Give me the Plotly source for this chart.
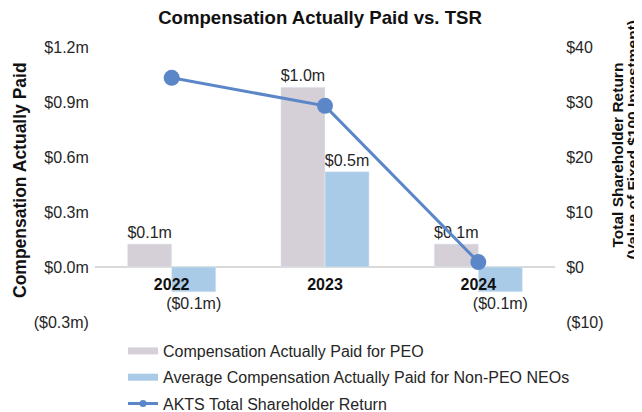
import plotly.graph_objects as go

# ---- data ----
years = ["2022", "2023", "2024"]
peo_cap = [0.125, 0.98, 0.125]          # $m, Compensation Actually Paid for PEO
neo_cap = [-0.135, 0.52, -0.135]        # $m, Average CAP for Non-PEO NEOs
tsr = [34.4, 29.3, 0.9]                 # AKTS TSR, value of fixed $100
left_ticks = [-0.3, 0.0, 0.3, 0.6, 0.9, 1.2]
left_labels = ["($0.3m)", "$0.0m", "$0.3m", "$0.6m", "$0.9m", "$1.2m"]
right_ticks = [-10, 0, 10, 20, 30, 40]
right_labels = ["($10)", "$0", "$10", "$20", "$30", "$40"]
names = ["Compensation Actually Paid for PEO",
         "Average Compensation Actually Paid for Non-PEO NEOs",
         "AKTS Total Shareholder Return"]


def money(v):
    s = f"${abs(v):.1f}m"
    return f"({s})" if v < 0 else s


FONT = "Liberation Sans, Arial, sans-serif"
TXT = "#262626"
C_PEO = "#d5d0d8"
C_NEO = "#a9cbe8"
C_TSR = "#5b86c8"
# page body has an 8px margin, so the figure is 8px smaller than the window
W, H = 634, 404
L, R, T, B = 87, 87, 39, 90
PW, PH = W - L - R, H - T - B

fig = go.Figure()
fig.add_trace(go.Bar(x=years, y=peo_cap, name=names[0], marker_color=C_PEO,
                     text=[money(v) for v in peo_cap], textposition="outside",
                     constraintext="none",
                     textfont=dict(size=16, color=TXT, family=FONT),
                     cliponaxis=False, showlegend=False))
fig.add_trace(go.Bar(x=years, y=neo_cap, name=names[1], marker_color=C_NEO,
                     text=[money(v) for v in neo_cap], textposition="outside",
                     constraintext="none",
                     textfont=dict(size=16, color=TXT, family=FONT),
                     cliponaxis=False, showlegend=False))
fig.add_trace(go.Scatter(x=years, y=tsr, name=names[2], yaxis="y2",
                         mode="lines+markers",
                         line=dict(color=C_TSR, width=3),
                         marker=dict(color=C_TSR, size=16),
                         cliponaxis=False, showlegend=False))

# legend entries (styled swatches)
for i, (nm, col) in enumerate(zip(names[:2], [C_PEO, C_NEO])):
    fig.add_trace(go.Scatter(x=[None], y=[None], name=nm, mode="lines",
                             line=dict(color=col, width=7), legendgroup=f"g{i}"))
fig.add_trace(go.Scatter(x=[None], y=[None], name=names[2], mode="lines+markers",
                         line=dict(color=C_TSR, width=3),
                         marker=dict(color=C_TSR, size=7), legendgroup="g2"))

right_title = [("<b>Total Shareholder Return</b>", 608.5, 147),
               ("<b>(Value of Fixed $100 Investment)</b>", 623.5, 132)]

annotations = [
    dict(text="<b>Compensation Actually Paid</b>", textangle=-90,
         xref="paper", yref="paper", x=(12 - L) / PW,
         y=(H - B - 172) / PH,
         xanchor="center", yanchor="middle", showarrow=False,
         font=dict(size=17.5, color="#111111", family=FONT)),
]
for txt, xc, yc in right_title:
    annotations.append(dict(text=txt, textangle=-90, xref="paper", yref="paper",
                            x=(xc - L) / PW, y=(H - B - yc) / PH,
                            xanchor="center", yanchor="middle", showarrow=False,
                            font=dict(size=15.5, color="#111111", family=FONT)))

fig.update_layout(
    width=W, height=H,
    margin=dict(l=L, r=R, t=T, b=B, autoexpand=False),
    paper_bgcolor="white", plot_bgcolor="white",
    font=dict(family=FONT, size=16, color=TXT),
    title=dict(text="<b>Compensation Actually Paid vs. TSR</b>",
               x=312 / W, xanchor="center", y=1 - 9 / H, yanchor="middle",
               font=dict(size=18.6, color="#111111", family=FONT)),
    barmode="group", bargap=0.425, bargroupgap=0,
    xaxis=dict(type="category", anchor="free", position=0.2,
               showgrid=False, showline=False, zeroline=False,
               ticks="outside", ticklen=3, tickcolor="rgba(0,0,0,0)",
               tickfont=dict(size=16, color="#111111", family=FONT),
               tickprefix="<b>", ticksuffix="</b>"),
    yaxis=dict(range=[-0.3, 1.2], tickvals=left_ticks, ticktext=left_labels,
               showgrid=False, zeroline=True, zerolinecolor="#d9d9d9",
               zerolinewidth=2, showline=False,
               ticks="outside", ticklen=2, tickcolor="rgba(0,0,0,0)",
               tickfont=dict(size=16, color=TXT)),
    yaxis2=dict(range=[-10, 40], tickvals=right_ticks, ticktext=right_labels,
                overlaying="y", side="right", showgrid=False, zeroline=False,
                showline=False, ticks="outside", ticklen=7,
                tickcolor="rgba(0,0,0,0)", tickfont=dict(size=16, color=TXT)),
    legend=dict(orientation="v", xref="container", yref="container",
                x=115 / W, xanchor="left",
                y=1 - 326 / H, yanchor="top", traceorder="grouped",
                tracegroupgap=2.5, font=dict(size=16, color=TXT),
                bgcolor="rgba(0,0,0,0)"),
    annotations=annotations,
)

fig.write_html("out.html")
